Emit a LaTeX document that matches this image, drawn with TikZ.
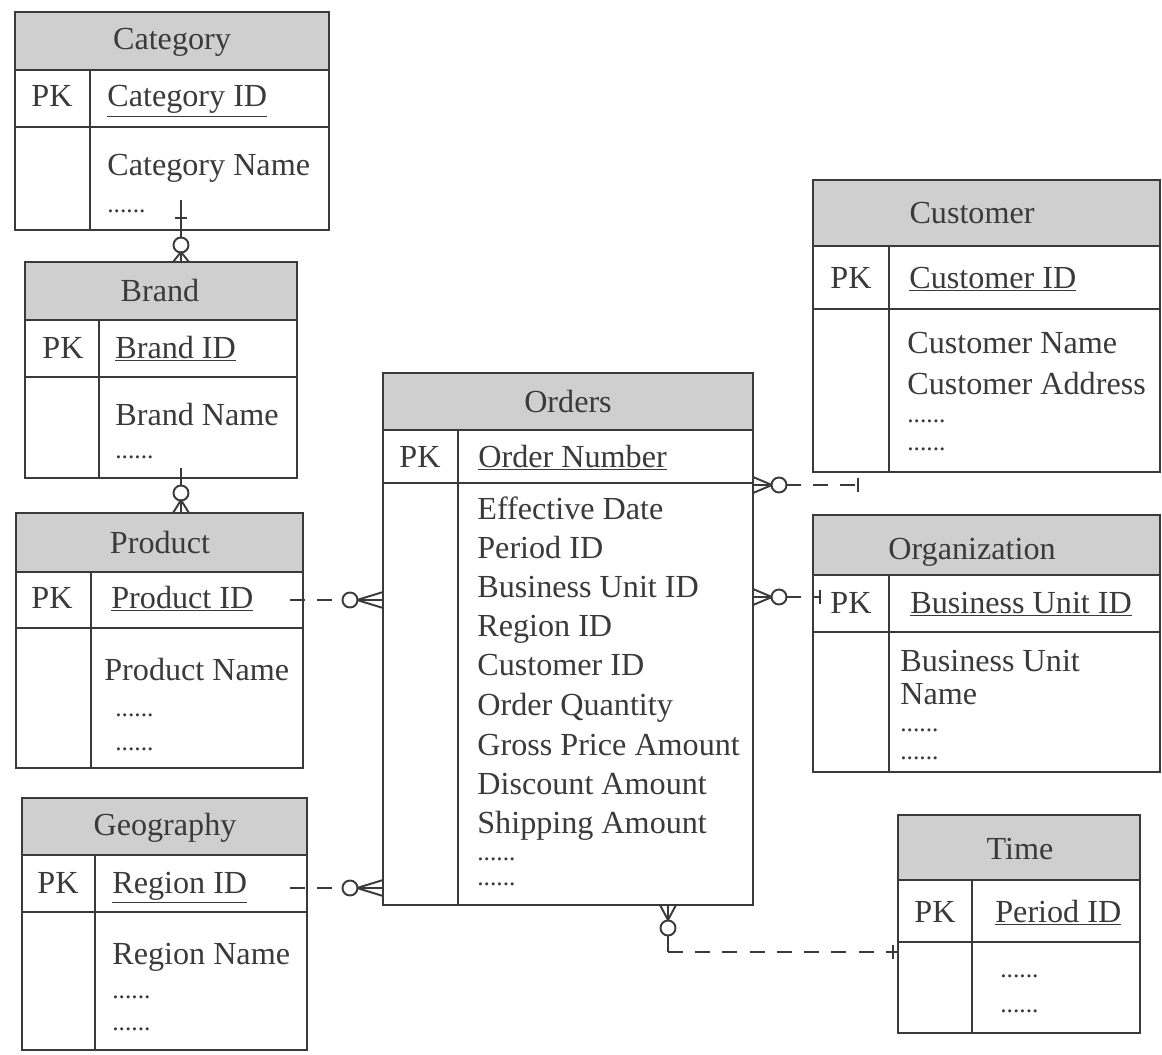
\documentclass[tikz,border=0pt]{standalone}
\usepackage{fontspec}
\setmainfont{Liberation Serif}
\usetikzlibrary{fit}
\definecolor{ink}{HTML}{3A3A3A}
\definecolor{hdr}{HTML}{CFCFCF}
\tikzset{
  edge/.style={draw=ink, line width=1.1pt},
  lbl/.style={inner sep=0pt, text=ink, font=\fontsize{18.3}{22}\selectfont, anchor=base west},
  ttl/.style={lbl, anchor=base},
  dots/.style={inner sep=0pt, text=ink, font=\fontsize{14.5}{16}\selectfont, anchor=base west},
  rel/.style={draw=ink, line width=1.1pt},
  reldash/.style={rel, dash pattern=on 8.5pt off 7pt},
}
% entity table: name, x1, y1, x2, y2, header bottom, key row bottom, column divider
\newcommand\erbox[8]{%
  \node[fit={(#2,#3)(#4,#5)}, inner sep=0pt] (#1) {};
  \fill[hdr] (#2,#3) rectangle (#4,#6);
  \draw[edge] (#2,#6) -- (#4,#6) (#2,#7) -- (#4,#7) (#8,#6) -- (#8,#5);
  \draw[edge] (#2,#3) rectangle (#4,#5);}
% crow's foot: converge point, entity edge, position on the other axis
\newcommand\footH[3]{\draw[rel] (#1,#3) -- (#2,#3-8) (#1,#3) -- (#2,#3) (#1,#3) -- (#2,#3+8);}
\newcommand\footV[3]{\draw[rel] (#3,#1) -- (#3-8,#2) (#3,#1) -- (#3,#2) (#3,#1) -- (#3+8,#2);}
\newcommand\ring[2]{\draw[rel, fill=white] (#1,#2) circle[radius=0.15cm];}
\begin{document}
\begin{tikzpicture}[x=0.02cm, y=-0.02cm]
\useasboundingbox (0,0) rectangle (1162,1054);
\fill[white] (0,0) rectangle (1162,1054);

% ---------- entities ----------
\erbox{cat}{15}{12}{329}{230}{70}{127}{90}
\node[ttl] (catT) at (172,50) {Category};
\node[ttl] (catPK) at (52,107) {PK};
\node[lbl] (catID) at (107,107) {\underline{Category ID}};
\node[lbl] (catN) at (107,175) {Category Name};
\node[dots] (catD) at (107,213) {......};

\erbox{brand}{25}{262}{297}{478}{320}{377}{99}
\node[ttl] (brT) at (160,301) {Brand};
\node[ttl] (brPK) at (63,358) {PK};
\node[lbl] (brID) at (115,358) {\underline{Brand ID}};
\node[lbl] (brN) at (115,425) {Brand Name};
\node[dots] (brD) at (115,458) {......};

\erbox{prod}{16}{513}{303}{768}{572}{628}{91}
\node[ttl] (prT) at (160,553) {Product};
\node[ttl] (prPK) at (52,608) {PK};
\node[lbl] (prID) at (111,608) {\underline{Product ID}};
\node[lbl] (prN) at (104,680) {Product Name};
\node[dots] (prD1) at (115,716) {......};
\node[dots] (prD2) at (115,750) {......};

\erbox{geo}{22}{798}{307}{1050}{855}{912}{95}
\node[ttl] (geT) at (165,835) {Geography};
\node[ttl] (gePK) at (58,893) {PK};
\node[lbl] (geID) at (112,893) {\underline{Region ID}};
\node[lbl] (geN) at (112,964) {Region Name};
\node[dots] (geD1) at (112,998) {......};
\node[dots] (geD2) at (112,1030) {......};

\erbox{ord}{383}{373}{753}{905}{430}{483}{458}
\node[ttl] (orT) at (568,412) {Orders};
\node[ttl] (orPK) at (420,467) {PK};
\node[lbl] (orID) at (478,467) {\underline{Order Number}};
\node[lbl] (or1) at (477,519) {Effective Date};
\node[lbl] (or2) at (477,558) {Period ID};
\node[lbl] (or3) at (477,597) {Business Unit ID};
\node[lbl] (or4) at (477,636) {Region ID};
\node[lbl] (or5) at (477,675) {Customer ID};
\node[lbl] (or6) at (477,715) {Order Quantity};
\node[lbl] (or7) at (477,755) {Gross Price Amount};
\node[lbl] (or8) at (477,794) {Discount Amount};
\node[lbl] (or9) at (477,833) {Shipping Amount};
\node[dots] (orD1) at (477,860) {......};
\node[dots] (orD2) at (477,885) {......};

\erbox{cust}{813}{180}{1160}{472}{246}{309}{889}
\node[ttl] (cuT) at (972,223) {Customer};
\node[ttl] (cuPK) at (851,288) {PK};
\node[lbl] (cuID) at (909,288) {\underline{Customer ID}};
\node[lbl] (cuN) at (907,353) {Customer Name};
\node[lbl] (cuA) at (907,394) {Customer Address};
\node[dots] (cuD1) at (907,422) {......};
\node[dots] (cuD2) at (907,450) {......};

\erbox{org}{813}{515}{1160}{772}{575}{632}{889}
\node[ttl] (ogT) at (972,559) {Organization};
\node[ttl] (ogPK) at (851,613) {PK};
\node[lbl] (ogID) at (910,613) {\underline{Business Unit ID}};
\node[lbl] (ogN1) at (900,671) {Business Unit};
\node[lbl] (ogN2) at (900,704) {Name};
\node[dots] (ogD1) at (900,731) {......};
\node[dots] (ogD2) at (900,759) {......};

\erbox{time}{898}{815}{1140}{1033}{880}{942}{972}
\node[ttl] (tiT) at (1020,859) {Time};
\node[ttl] (tiPK) at (935,922) {PK};
\node[lbl] (tiID) at (995,922) {\underline{Period ID}};
\node[dots] (tiD1) at (1000,977) {......};
\node[dots] (tiD2) at (1000,1012) {......};

% ---------- relationships ----------
% Category 1 -- 0..* Brand
\coordinate (cbA) at (181,200);
\coordinate (cbB) at (181,238);
\draw[rel] (cbA) -- (cbB);
\draw[rel] (175,218) -- (187,218);
\ring{181}{245}
\footV{252}{262}{181}

% Brand 1 -- 0..* Product
\coordinate (bpA) at (181,468);
\coordinate (bpB) at (181,486);
\draw[rel] (bpA) -- (bpB);
\ring{181}{493}
\footV{500}{513}{181}

% Product 1 -- 0..* Orders
\coordinate (poA) at (290,600);
\coordinate (poB) at (343,600);
\draw[reldash] (poA) -- (poB);
\ring{350}{600}
\footH{357}{383}{600}

% Geography 1 -- 0..* Orders
\coordinate (goA) at (290,888);
\coordinate (goB) at (343,888);
\draw[reldash] (goA) -- (goB);
\ring{350}{888}
\footH{357}{383}{888}

% Customer 1 -- 0..* Orders
\footH{772}{753}{485}
\ring{779}{485}
\coordinate (ocA) at (786,485);
\coordinate (ocB) at (858,485);
\draw[reldash] (ocA) -- (ocB);
\draw[rel] (858,478) -- (858,492);

% Organization 1 -- 0..* Orders
\footH{772}{753}{597}
\ring{779}{597}
\coordinate (ogA) at (786,597);
\coordinate (ogB) at (820,597);
\draw[reldash] (ogA) -- (ogB);
\draw[rel] (820,590) -- (820,604);

% Time 1 -- 0..* Orders
\footV{920}{905}{668}
\ring{668}{928}
\coordinate (otA) at (668,935);
\coordinate (otB) at (668,952);
\coordinate (otC) at (898,952);
\draw[rel] (otA) -- (otB);
\draw[reldash] (otB) -- (otC);
\draw[rel] (893,945) -- (893,959);
\end{tikzpicture}
\end{document}
